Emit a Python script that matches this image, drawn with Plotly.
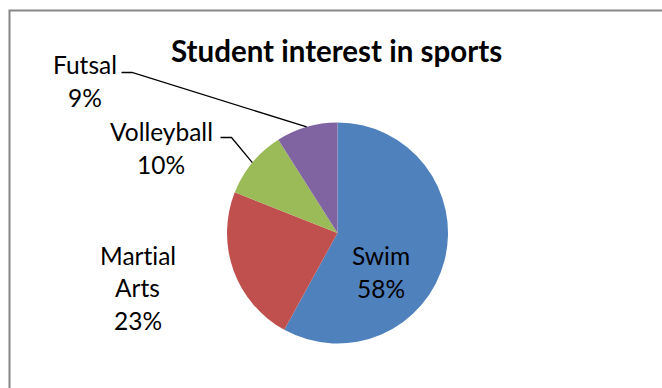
import math
import plotly.graph_objects as go

# ---- data ----
categories = ["Swim", "Martial Arts", "Volleyball", "Futsal"]
values = [58, 23, 10, 9]
colors = ["#4F81BD", "#C0504D", "#9BBB59", "#8064A2"]
title_text = "Student interest in sports"

# ---- layout constants (pixels) ----
W, H = 662, 388
CX, CY, R = 337.5, 233.0, 110.5
FONT = "Lato"
LABEL_SIZE = 24.5
TITLE_SIZE = 29.5
LINE_GAP = 32.5

# label placement (pixel centre of first line) and line breaks, per category
label_pos = {
    "Swim": (380.5, 255.5),
    "Martial Arts": (137.5, 255.0),
    "Volleyball": (161.0, 131.5),
    "Futsal": (84.5, 65.0),
}
label_wrap = {"Martial Arts": True}
# leader lines: (start x, start y, horizontal run) for outside labels
leader = {
    "Volleyball": (220.5, 137.5, 11.0),
    "Futsal": (121.5, 72.5, 10.5),
}

ZWNJ = "\u200c"  # stops the font from joining "ti" into a ligature


def px(x):
    return x / W


def py(y):
    return 1 - y / H


fig = go.Figure(go.Pie(
    labels=categories,
    values=values,
    sort=False,
    direction="clockwise",
    rotation=0,
    marker=dict(colors=colors, line=dict(width=0)),
    textinfo="none",
    hoverinfo="label+percent",
    showlegend=False,
    domain=dict(x=[px(CX - R), px(CX + R)], y=[py(CY + R), py(CY - R)]),
))

total = sum(values)
annotations = []
shapes = []
cum = 0
for name, v in zip(categories, values):
    pct = round(100 * v / total)
    mid = (cum + v / 2) / total * 2 * math.pi
    cum += v
    lines = name.split(" ") if label_wrap.get(name) else [name]
    lines = lines + [f"{pct}%"]
    lx, ly = label_pos[name]
    for i, t in enumerate(lines):
        annotations.append(dict(
            x=px(lx), y=py(ly + i * LINE_GAP), xref="paper", yref="paper",
            text=t.replace("ti", "t" + ZWNJ + "i"), showarrow=False,
            xanchor="center", yanchor="middle",
            font=dict(family=FONT, size=LABEL_SIZE, color="#000000"),
        ))
    if name in leader:
        sx, sy, run = leader[name]
        ex = CX + R * math.sin(mid)
        ey = CY - R * math.cos(mid)
        path = f"M {px(sx)} {py(sy)} L {px(sx + run)} {py(sy)} L {px(ex)} {py(ey)}"
        shapes.append(dict(type="path", xref="paper", yref="paper", path=path,
                           line=dict(color="#000000", width=1.3)))

annotations.append(dict(
    x=px(336), y=py(51), xref="paper", yref="paper", text=f"<b>{title_text}</b>",
    showarrow=False, xanchor="center", yanchor="middle",
    font=dict(family=FONT, size=TITLE_SIZE, color="#000000"),
))

shapes.append(dict(type="rect", xref="paper", yref="paper",
                   x0=px(9.5), y0=py(400), x1=px(680), y1=py(10.5),
                   line=dict(color="#878787", width=2), fillcolor="rgba(0,0,0,0)"))

fig.update_layout(
    width=W, height=H,
    margin=dict(l=0, r=0, t=0, b=0),
    paper_bgcolor="#FFFFFF",
    plot_bgcolor="#FFFFFF",
    annotations=annotations,
    shapes=shapes,
)

fig.write_html("out.html")
